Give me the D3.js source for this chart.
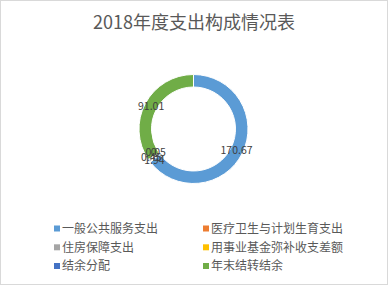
<!DOCTYPE html>
<html>
<head>
<meta charset="utf-8">
<script src="https://cdn.jsdelivr.net/npm/d3@7"></script>
<style>
  body { margin: 0; background: #fff; }
  text { font-family: "Noto Sans CJK SC", "Noto Sans", sans-serif; }
</style>
</head>
<body>
<div id="chart"></div>
<script>
var svgWidth = 388;
var svgHeight = 285;

// chart data
var categories = ["一般公共服务支出", "医疗卫生与计划生育支出", "住房保障支出", "用事业基金弥补收支差额", "结余分配", "年末结转结余"];
var values = [170.67, 0.45, 1.94, 0.05, 0, 91.01];
var labels = ["170.67", "0.45", "1.94", "0.05", "0", "91.01"];
var colors = ["#5b9bd5", "#ed7d31", "#a5a5a5", "#ffc000", "#4472c4", "#70ad47"];

var data = categories.map(function(c, i) {
  return { name: c, value: values[i], label: labels[i], color: colors[i] };
});

var svg = d3.select("#chart")
  .append("svg")
  .attr("width", svgWidth)
  .attr("height", svgHeight);

// outer border
svg.append("rect")
  .attr("x", 0.5).attr("y", 0.5)
  .attr("width", svgWidth - 1).attr("height", svgHeight - 1)
  .attr("fill", "#fff")
  .attr("stroke", "#d9d9d9");

// title
svg.append("text")
  .attr("x", 194)
  .attr("y", 29)
  .attr("text-anchor", "middle")
  .attr("font-size", 18)
  .attr("fill", "#595959")
  .text("2018年度支出构成情况表");

var cx = 193.5, cy = 129;
var outerR = 54.5, innerR = 42;

var pie = d3.pie().sort(null).value(d => d.value);
var arc = d3.arc().innerRadius(innerR).outerRadius(outerR);
var labelArc = d3.arc().innerRadius(46).outerRadius(50);

var donut = svg.append("g")
  .attr("transform", `translate(${cx}, ${cy})`);

var arcs = pie(data);

donut.selectAll("path")
  .data(arcs)
  .enter()
  .append("path")
  .attr("d", arc)
  .attr("fill", d => d.data.color)
  .attr("stroke", "#fff")
  .attr("stroke-width", 1);

// small slices' labels pile up like in the original; nudge them a bit
var nudge = [[0, 0], [-4, 0], [0, 4], [2, -3], [0, -3], [0, 0]];

arcs.forEach(function(d, i) {
  var c = labelArc.centroid(d);
  svg.append("text")
    .attr("x", cx + c[0] + nudge[i][0])
    .attr("y", cy + c[1] + 3.5 + nudge[i][1])
    .attr("text-anchor", "middle")
    .attr("font-size", 10.5)
    .attr("fill", "#404040")
    .text(d.data.label);
});

// legend
var legendX = [54, 203];
var legendY = [228.5, 247.3, 266];
var legend = svg.append("g");

data.forEach(function(d, i) {
  var col = i % 2, row = Math.floor(i / 2);
  legend.append("rect")
    .attr("x", legendX[col])
    .attr("y", legendY[row] - 3)
    .attr("width", 6)
    .attr("height", 6)
    .attr("fill", d.color);
  legend.append("text")
    .attr("x", legendX[col] + 8)
    .attr("y", legendY[row])
    .attr("dy", "0.35em")
    .attr("font-size", 12)
    .attr("fill", "#595959")
    .text(d.name);
});
</script>
</body>
</html>
